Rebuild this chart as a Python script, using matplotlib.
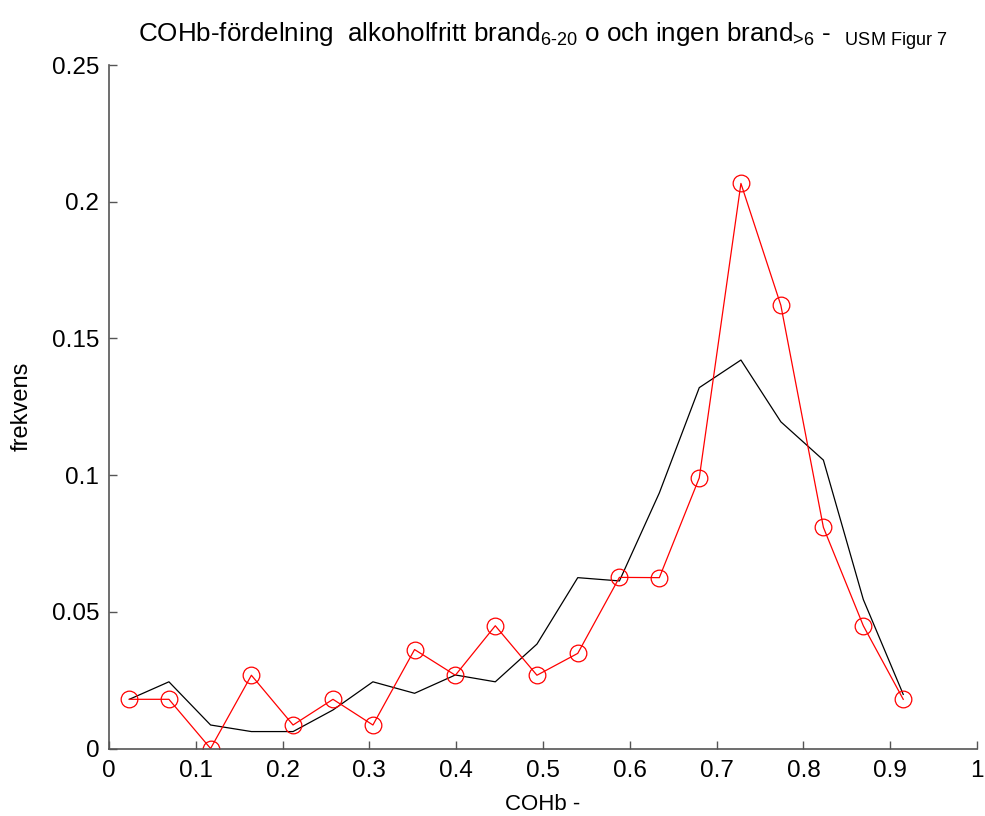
import matplotlib
matplotlib.use("Agg")
import matplotlib.pyplot as plt

plt.rcParams['font.family'] = ['Liberation Sans', 'DejaVu Sans']
plt.rcParams['mathtext.fontset'] = 'custom'
plt.rcParams['mathtext.rm'] = 'Liberation Sans'
plt.rcParams['mathtext.it'] = 'Liberation Sans:italic'

# bin centres (COHb)
cohb = [0.0234, 0.069, 0.117, 0.164, 0.212, 0.258, 0.304, 0.352, 0.399, 0.445,
        0.493, 0.540, 0.588, 0.634, 0.680, 0.728, 0.774, 0.823, 0.869, 0.915]

# ingen brand >6 (black)
ingen_brand = [0.018, 0.0244, 0.0086, 0.0062, 0.0062, 0.0141, 0.0244, 0.0202, 0.0269, 0.0244,
               0.0382, 0.0625, 0.0613, 0.0935, 0.132, 0.1421, 0.1195, 0.1055, 0.0545, 0.0198]

# alkoholfritt brand 6-20 (red, circles)
alkoholfritt = [0.018, 0.018, 0.0, 0.0268, 0.0086, 0.018, 0.0086, 0.0362, 0.0268, 0.0449,
                0.0268, 0.0348, 0.0626, 0.0625, 0.099, 0.2067, 0.1621, 0.0809, 0.0449, 0.018]

xticks = [0, 0.1, 0.2, 0.3, 0.4, 0.5, 0.6, 0.7, 0.8, 0.9, 1]
xticklabels = ['0', '0.1', '0.2', '0.3', '0.4', '0.5', '0.6', '0.7', '0.8', '0.9', '1']
yticks = [0, 0.05, 0.1, 0.15, 0.2, 0.25]
yticklabels = ['0', '0.05', '0.1', '0.15', '0.2', '0.25']

fig = plt.figure(figsize=(9.85, 8.16), dpi=100)
ax = fig.add_axes([0.1107, 0.0827, 0.8812, 0.8376])

ax.plot(cohb, ingen_brand, color='black', lw=0.9)
ax.plot(cohb, alkoholfritt, color='red', lw=0.9, marker='o', ms=12,
        mfc='none', mec='red', mew=0.9)

ax.set_xlim(0, 1)
ax.set_ylim(0, 0.25)
ax.set_xticks(xticks)
ax.set_xticklabels(xticklabels)
ax.set_yticks(yticks)
ax.set_yticklabels(yticklabels)

for s in ['top', 'right']:
    ax.spines[s].set_visible(False)
for s in ['left', 'bottom']:
    ax.spines[s].set_color('#555555')
    ax.spines[s].set_linewidth(1.2)
ax.tick_params(direction='in', length=6, width=1, colors='#555555',
               labelcolor='black', labelsize=17.5)
ax.tick_params(axis='y', pad=7)
ax.tick_params(axis='x', pad=8)

ax.set_xlabel('COHb -', fontsize=16, labelpad=9)
ax.set_ylabel('frekvens', fontsize=17, labelpad=14)
ax.set_title(r'COHb-fördelning  alkoholfritt brand$_{\text{6-20}}$ o och ingen brand$_{\text{>6}}$ -  $_{\text{USM Figur 7}}$',
             fontsize=18.7, pad=17)

fig.savefig('out.png', dpi=100)
